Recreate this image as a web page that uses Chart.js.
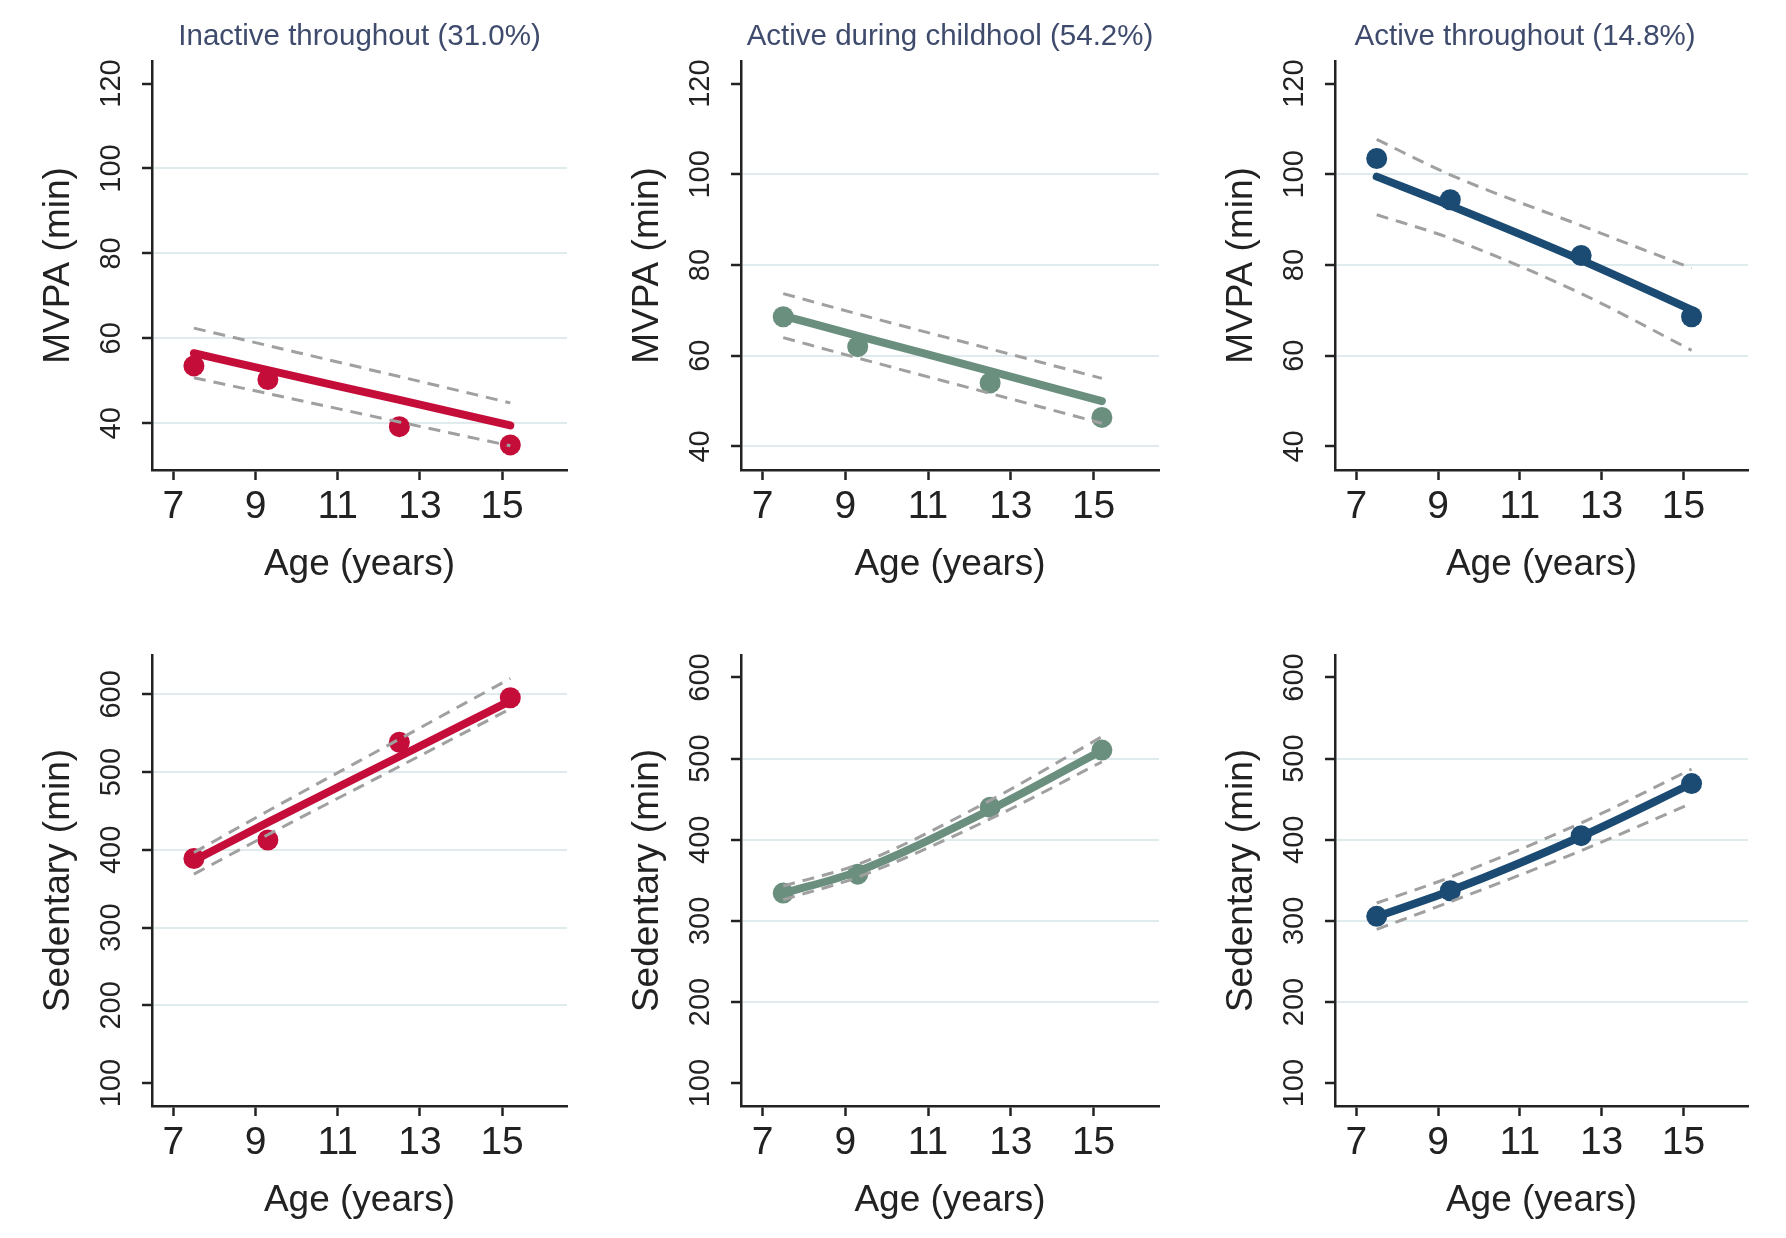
<!DOCTYPE html>
<html>
<head>
<meta charset="utf-8">
<script src="https://cdn.jsdelivr.net/npm/chart.js@4.4.1/dist/chart.umd.min.js"></script>
<style>
  html, body { margin: 0; padding: 0; background: #fff; }
  #wrap { position: relative; width: 1786px; height: 1238px; overflow: hidden; }
  .panel { position: absolute; }
</style>
</head>
<body>
<div id="wrap"></div>
<script>
const ages = [7.5, 9.3, 12.5, 15.2];
const xTicks = [7, 9, 11, 13, 15];
const mvpaTicks = [40, 60, 80, 100, 120];
const sedTicks = [100, 200, 300, 400, 500, 600];

// the third title sits a little left of its plot in the original
const groupTitles = ["Inactive throughout (31.0%)", "Active during childhool (54.2%)", "Active throughout (14.8%)    "];
const groupColors = ["#c50d3a", "#6b8f7f", "#1b4a72"];

// MVPA (min)
const mvpaInactiveObs   = [53.5, 50.3, 39.2, 34.9];
const mvpaInactiveFit   = [56.5, 52.5, 45.5, 39.5];
const mvpaInactiveUpper = [62.4, 58.3, 51.0, 44.8];
const mvpaInactiveLower = [50.7, 47.0, 40.3, 34.7];

const mvpaChildObs   = [68.6, 62.0, 54.0, 46.4];
const mvpaChildFit   = [68.8, 64.4, 56.6, 50.0];
const mvpaChildUpper = [73.7, 69.2, 61.5, 55.0];
const mvpaChildLower = [64.0, 59.5, 51.7, 45.1];

const mvpaActiveObs   = [103.5, 94.4, 82.1, 68.6];
const mvpaActiveFit   = [99.5, 93.1, 81.1, 70.1];
const mvpaActiveUpper = [107.7, 99.9, 88.7, 79.3];
const mvpaActiveLower = [91.1, 85.9, 73.7, 61.2];

// Sedentary (min)
const sedInactiveObs   = [388.9, 412.8, 538.5, 595.7];
const sedInactiveFit   = [386.4, 435.4, 520.2, 591.7];
const sedInactiveUpper = [396.6, 450.0, 542.5, 620.5];
const sedInactiveLower = [368.8, 419.5, 507.3, 581.5];

const sedChildObs   = [334.2, 357.6, 440.0, 510.5];
const sedChildFit   = [334, 361, 437, 510];
const sedChildUpper = [343, 369.5, 448.5, 527];
const sedChildLower = [326, 354, 425.6, 496];

const sedActiveObs   = [305.6, 337.1, 405.0, 469.2];
const sedActiveFit   = [305, 337, 404, 469];
const sedActiveUpper = [322, 353.8, 420.7, 487];
const sedActiveLower = [289.5, 323.5, 386.6, 445];

// gridlines shown in each panel
const mvpaGrid = [[40, 60, 80, 100], [40, 60, 80, 100], [60, 80, 100]];
const sedGrid = [[200, 300, 400, 500, 600], [200, 300, 400, 500], [200, 300, 400, 500]];

const mvpaRange = [[29.0, 125.3], [34.8, 125.0], [34.8, 125.0]];
const sedRange = [[70.6, 650.7], [71.8, 627.7], [71.8, 627.7]];
const ageRange = [6.48, 16.58];

const FONT = "'Liberation Sans', Arial, sans-serif";
const INK = "#222222";
const colLeft = [152, 741, 1335];
const colWidth = [415, 418, 413];
const AXIS_W = 130;
const XAXIS_H = 120;

function pts(vals) {
    return ages.map((a, i) => ({ x: a, y: vals[i] }));
}

function makePanel(opts) {
    const div = document.createElement("div");
    div.className = "panel";
    const padTop = opts.title ? 0 : 30;
    const titleH = opts.title ? 61 : 0;
    const left = colLeft[opts.col] - AXIS_W;
    const width = AXIS_W + colWidth[opts.col] + 12;
    const top = opts.plotTop - titleH - padTop;
    const height = padTop + titleH + opts.plotH + XAXIS_H;
    div.style.left = left + "px";
    div.style.top = top + "px";
    div.style.width = width + "px";
    div.style.height = height + "px";
    const canvas = document.createElement("canvas");
    div.appendChild(canvas);
    document.getElementById("wrap").appendChild(div);

    const color = groupColors[opts.col];
    const ciStyle = {
        showLine: true, borderColor: "#a0a0a0", borderWidth: 3, borderDash: [12, 8],
        pointRadius: 0, cubicInterpolationMode: "monotone", fill: false
    };

    new Chart(canvas.getContext("2d"), {
        type: "scatter",
        data: {
            datasets: [
                Object.assign({ data: pts(opts.upper) }, ciStyle),
                Object.assign({ data: pts(opts.lower) }, ciStyle),
                {
                    data: pts(opts.fit), showLine: true, borderColor: color, borderWidth: 8,
                    borderCapStyle: "round", pointRadius: 0, cubicInterpolationMode: "monotone"
                },
                {
                    data: pts(opts.obs), showLine: false, pointRadius: 10.5,
                    backgroundColor: color, borderWidth: 0
                }
            ]
        },
        options: {
            responsive: true,
            maintainAspectRatio: false,
            animation: false,
            devicePixelRatio: 1,
            layout: { padding: { top: padTop, left: 0, right: 12, bottom: 0 } },
            plugins: {
                legend: { display: false },
                tooltip: { enabled: false },
                title: {
                    display: !!opts.title,
                    text: opts.title || "",
                    fullSize: false,
                    color: "#3e4b6c",
                    font: { family: FONT, size: 29.5, weight: "normal" },
                    padding: { top: 19, bottom: 6.6 }
                }
            },
            scales: {
                x: {
                    type: "linear",
                    min: ageRange[0],
                    max: ageRange[1],
                    afterBuildTicks: ax => { ax.ticks = xTicks.map(v => ({ value: v })); },
                    afterFit: ax => { ax.height = XAXIS_H; },
                    ticks: { font: { family: FONT, size: 39 }, color: INK, padding: 4, maxRotation: 0, autoSkip: false },
                    grid: { drawOnChartArea: false, tickLength: 10, tickColor: INK, tickWidth: 2.5 },
                    border: { color: INK, width: 2.5 },
                    title: {
                        display: true, text: "Age (years)", color: INK,
                        font: { family: FONT, size: 37 }, padding: { top: 0, bottom: 3 }
                    }
                },
                y: {
                    type: "linear",
                    min: opts.range[0],
                    max: opts.range[1],
                    afterBuildTicks: ax => { ax.ticks = opts.ticks.map(v => ({ value: v })); },
                    afterFit: ax => { ax.width = AXIS_W; },
                    ticks: {
                        font: { family: FONT, size: 29 }, color: INK, padding: 6,
                        minRotation: 90, maxRotation: 90, crossAlign: "center", autoSkip: false
                    },
                    grid: {
                        color: ctx => (ctx.tick && opts.grid.includes(ctx.tick.value)) ? "#e0ebee" : "rgba(0,0,0,0)",
                        lineWidth: 2,
                        tickLength: 10,
                        tickColor: INK,
                        tickWidth: 2.5
                    },
                    border: { color: INK, width: 2.5 },
                    title: {
                        display: true, text: opts.yTitle, color: INK,
                        font: { family: FONT, size: 37 }, padding: { top: 15, bottom: 0 }
                    }
                }
            }
        }
    });
}

const mvpaSets = [
    [mvpaInactiveObs, mvpaInactiveFit, mvpaInactiveUpper, mvpaInactiveLower],
    [mvpaChildObs, mvpaChildFit, mvpaChildUpper, mvpaChildLower],
    [mvpaActiveObs, mvpaActiveFit, mvpaActiveUpper, mvpaActiveLower]
];
const sedSets = [
    [sedInactiveObs, sedInactiveFit, sedInactiveUpper, sedInactiveLower],
    [sedChildObs, sedChildFit, sedChildUpper, sedChildLower],
    [sedActiveObs, sedActiveFit, sedActiveUpper, sedActiveLower]
];

for (let c = 0; c < 3; c++) {
    makePanel({
        col: c, title: groupTitles[c], plotTop: 61, plotH: 409,
        yTitle: "MVPA (min)", ticks: mvpaTicks, grid: mvpaGrid[c], range: mvpaRange[c],
        obs: mvpaSets[c][0], fit: mvpaSets[c][1], upper: mvpaSets[c][2], lower: mvpaSets[c][3]
    });
    makePanel({
        col: c, title: null, plotTop: 655, plotH: 451,
        yTitle: "Sedentary (min)", ticks: sedTicks, grid: sedGrid[c], range: sedRange[c],
        obs: sedSets[c][0], fit: sedSets[c][1], upper: sedSets[c][2], lower: sedSets[c][3]
    });
}
</script>
</body>
</html>
